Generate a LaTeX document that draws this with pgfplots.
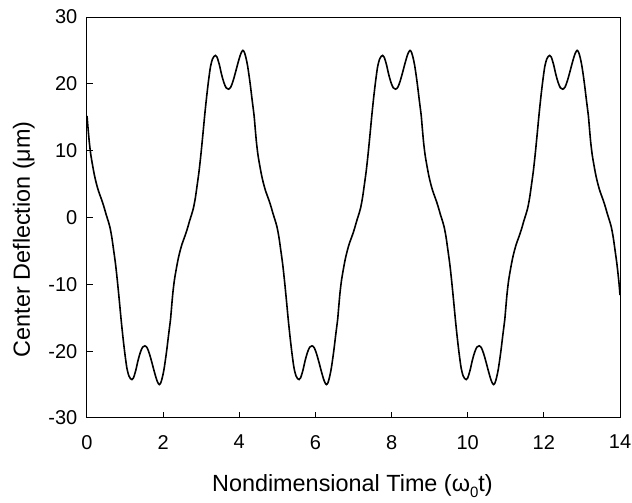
\documentclass[border=0pt]{standalone}
\usepackage{pgfplots}
\pgfplotsset{compat=1.18}
\usepackage{pgfplotstable}
\usepackage{fontspec}
\setmainfont{Liberation Sans}
\pgfplotstableread{
t v
0.000 15.2
0.030 13.2
0.060 11.3
0.100 9.4
0.150 7.7
0.200 6.2
0.250 5.0
0.300 4.0
0.350 3.2
0.400 2.4
0.450 1.5
0.500 0.5
0.550 -0.4
0.600 -1.4
0.650 -2.9
0.700 -4.9
0.750 -7.0
0.800 -9.6
0.850 -12.5
0.900 -15.5
0.950 -18.2
1.000 -20.6
1.050 -22.6
1.100 -23.7
1.140 -24.1
1.180 -24.25
1.220 -24.0
1.280 -22.9
1.340 -21.4
1.400 -20.2
1.460 -19.4
1.520 -19.2
1.580 -19.5
1.640 -20.4
1.700 -21.6
1.760 -22.9
1.820 -24.1
1.860 -24.7
1.900 -25.0
1.940 -24.7
1.980 -23.9
2.020 -22.8
2.060 -21.3
2.100 -19.6
2.140 -17.7
2.180 -15.9
2.195 -15.2
2.225 -13.2
2.255 -11.3
2.295 -9.4
2.345 -7.7
2.395 -6.2
2.445 -5.0
2.495 -4.0
2.545 -3.2
2.595 -2.4
2.645 -1.5
2.695 -0.5
2.745 0.4
2.795 1.4
2.845 2.9
2.895 4.9
2.945 7.0
2.995 9.6
3.045 12.5
3.095 15.5
3.145 18.2
3.195 20.6
3.245 22.6
3.295 23.7
3.335 24.1
3.375 24.25
3.415 24.0
3.475 22.9
3.535 21.4
3.595 20.2
3.655 19.4
3.715 19.2
3.775 19.5
3.835 20.4
3.895 21.6
3.955 22.9
4.015 24.1
4.055 24.7
4.095 25.0
4.135 24.7
4.175 23.9
4.215 22.8
4.255 21.3
4.295 19.6
4.335 17.7
4.375 15.9
4.390 15.2
4.420 13.2
4.450 11.3
4.490 9.4
4.540 7.7
4.590 6.2
4.640 5.0
4.690 4.0
4.740 3.2
4.790 2.4
4.840 1.5
4.890 0.5
4.940 -0.4
4.990 -1.4
5.040 -2.9
5.090 -4.9
5.140 -7.0
5.190 -9.6
5.240 -12.5
5.290 -15.5
5.340 -18.2
5.390 -20.6
5.440 -22.6
5.490 -23.7
5.530 -24.1
5.570 -24.25
5.610 -24.0
5.670 -22.9
5.730 -21.4
5.790 -20.2
5.850 -19.4
5.910 -19.2
5.970 -19.5
6.030 -20.4
6.090 -21.6
6.150 -22.9
6.210 -24.1
6.250 -24.7
6.290 -25.0
6.330 -24.7
6.370 -23.9
6.410 -22.8
6.450 -21.3
6.490 -19.6
6.530 -17.7
6.570 -15.9
6.585 -15.2
6.615 -13.2
6.645 -11.3
6.685 -9.4
6.735 -7.7
6.785 -6.2
6.835 -5.0
6.885 -4.0
6.935 -3.2
6.985 -2.4
7.035 -1.5
7.085 -0.5
7.135 0.4
7.185 1.4
7.235 2.9
7.285 4.9
7.335 7.0
7.385 9.6
7.435 12.5
7.485 15.5
7.535 18.2
7.585 20.6
7.635 22.6
7.685 23.7
7.725 24.1
7.765 24.25
7.805 24.0
7.865 22.9
7.925 21.4
7.985 20.2
8.045 19.4
8.105 19.2
8.165 19.5
8.225 20.4
8.285 21.6
8.345 22.9
8.405 24.1
8.445 24.7
8.485 25.0
8.525 24.7
8.565 23.9
8.605 22.8
8.645 21.3
8.685 19.6
8.725 17.7
8.765 15.9
8.780 15.2
8.810 13.2
8.840 11.3
8.880 9.4
8.930 7.7
8.980 6.2
9.030 5.0
9.080 4.0
9.130 3.2
9.180 2.4
9.230 1.5
9.280 0.5
9.330 -0.4
9.380 -1.4
9.430 -2.9
9.480 -4.9
9.530 -7.0
9.580 -9.6
9.630 -12.5
9.680 -15.5
9.730 -18.2
9.780 -20.6
9.830 -22.6
9.880 -23.7
9.920 -24.1
9.960 -24.25
10.000 -24.0
10.060 -22.9
10.120 -21.4
10.180 -20.2
10.240 -19.4
10.300 -19.2
10.360 -19.5
10.420 -20.4
10.480 -21.6
10.540 -22.9
10.600 -24.1
10.640 -24.7
10.680 -25.0
10.720 -24.7
10.760 -23.9
10.800 -22.8
10.840 -21.3
10.880 -19.6
10.920 -17.7
10.960 -15.9
10.975 -15.2
11.005 -13.2
11.035 -11.3
11.075 -9.4
11.125 -7.7
11.175 -6.2
11.225 -5.0
11.275 -4.0
11.325 -3.2
11.375 -2.4
11.425 -1.5
11.475 -0.5
11.525 0.4
11.575 1.4
11.625 2.9
11.675 4.9
11.725 7.0
11.775 9.6
11.825 12.5
11.875 15.5
11.925 18.2
11.975 20.6
12.025 22.6
12.075 23.7
12.115 24.1
12.155 24.25
12.195 24.0
12.255 22.9
12.315 21.4
12.375 20.2
12.435 19.4
12.495 19.2
12.555 19.5
12.615 20.4
12.675 21.6
12.735 22.9
12.795 24.1
12.835 24.7
12.875 25.0
12.915 24.7
12.955 23.9
12.995 22.8
13.035 21.3
13.075 19.6
13.115 17.7
13.155 15.9
13.170 15.2
13.200 13.2
13.230 11.3
13.270 9.4
13.320 7.7
13.370 6.2
13.420 5.0
13.470 4.0
13.520 3.2
13.570 2.4
13.620 1.5
13.670 0.5
13.720 -0.4
13.770 -1.4
13.820 -2.9
13.870 -4.9
13.920 -7.0
13.970 -9.6
14.000 -11.6
}\deflection
\begin{document}
\begin{tikzpicture}
\path[use as bounding box] (0,0) rectangle (632pt,503pt);
\begin{axis}[
  at={(87pt,85pt)}, anchor=south west,
  scale only axis, width=533pt, height=401pt,
  xmin=0, xmax=14, ymin=-30, ymax=30,
  xtick={0,2,4,6,8,10,12,14},
  xticklabels={0,2,4,6,8,10,12,14},
  ytick={-30,-20,-10,0,10,20,30},
  yticklabels={-30,-20,-10,0,10,20,30},
  tick align=inside, xtick pos=bottom, ytick pos=left,
  major tick length=6pt,
  axis line style={line width=1pt},
  every tick/.style={black, line width=1pt},
  tick label style={font=\fontsize{20}{22}\selectfont, inner sep=0pt},
  xticklabel style={anchor=north, yshift=-17pt},
  yticklabel style={anchor=east, xshift=-9.5pt},
  label style={font=\fontsize{23.4}{26}\selectfont, inner sep=0pt},
  xlabel={Nondimensional Time (ω\raisebox{-6pt}{\fontsize{15}{15}\selectfont 0}t)},
  ylabel={Center Deflection (μm)},
  xlabel style={at={(axis description cs:0.498,-0.1838)}, anchor=base},
  ylabel style={at={(axis description cs:-0.107,0.446)}, anchor=base},
]
\addplot[black, line width=1.6pt, smooth, tension=0.5] table[x=t, y=v] {\deflection};
\end{axis}
\end{tikzpicture}
\end{document}
